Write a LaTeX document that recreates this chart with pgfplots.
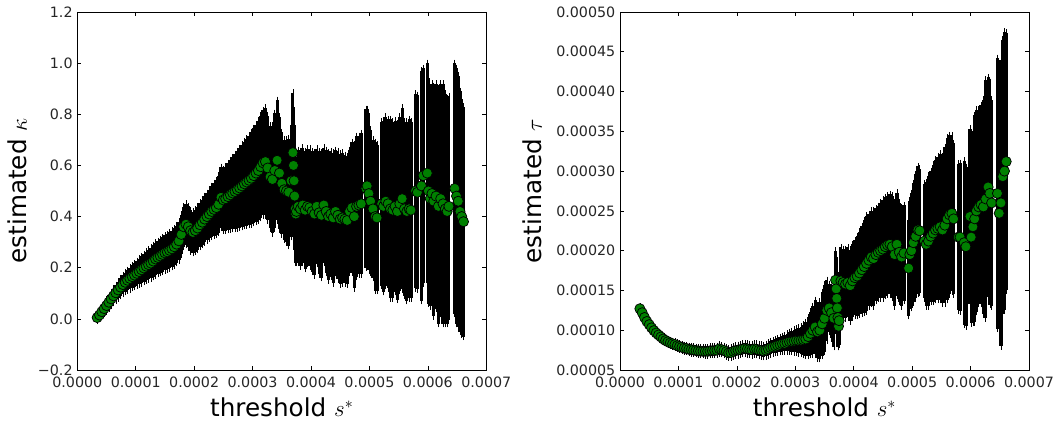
\documentclass[border=0pt]{standalone}
\usepackage{pgfplots}
\usepackage{pgfplotstable}
\pgfplotsset{compat=1.18}
\usepackage{fontspec}
\setmainfont{DejaVu Sans}
\definecolor{mplgreen}{RGB}{0,128,0}

% s: threshold (units of 1e-4), k: kappa, ke: error of kappa,
% t: tau (units of 1e-4), te: error of tau (units of 1e-4)
\pgfplotstableread{
s k ke t te
0.34 0.005 0.012 1.27 0.025
0.38 0.015 0.015 1.22 0.025
0.42 0.028 0.018 1.16 0.025
0.46 0.040 0.020 1.11 0.025
0.50 0.052 0.022 1.07 0.025
0.54 0.065 0.024 1.03 0.025
0.58 0.078 0.026 0.995 0.027
0.62 0.090 0.028 0.965 0.027
0.66 0.102 0.030 0.94 0.028
0.70 0.113 0.032 0.915 0.028
0.74 0.124 0.034 0.89 0.030
0.78 0.134 0.036 0.87 0.030
0.82 0.143 0.038 0.855 0.032
0.86 0.151 0.040 0.84 0.032
0.90 0.158 0.042 0.83 0.034
0.94 0.165 0.044 0.82 0.034
0.98 0.171 0.046 0.805 0.036
1.02 0.178 0.048 0.795 0.036
1.06 0.185 0.050 0.785 0.038
1.10 0.192 0.052 0.775 0.038
1.14 0.199 0.054 0.77 0.040
1.18 0.206 0.056 0.76 0.040
1.22 0.212 0.058 0.755 0.042
1.26 0.218 0.060 0.75 0.042
1.30 0.226 0.062 0.745 0.044
1.34 0.234 0.063 0.74 0.044
1.38 0.240 0.064 0.737 0.046
1.42 0.246 0.066 0.735 0.046
1.46 0.252 0.067 0.735 0.048
1.50 0.258 0.068 0.735 0.048
1.54 0.262 0.069 0.74 0.050
1.58 0.268 0.070 0.742 0.050
1.62 0.274 0.071 0.745 0.052
1.66 0.282 0.072 0.75 0.052
1.70 0.292 0.073 0.765 0.054
1.74 0.305 0.075 0.755 0.054
1.78 0.330 0.077 0.745 0.056
1.82 0.360 0.079 0.73 0.056
1.86 0.370 0.080 0.715 0.058
1.90 0.360 0.080 0.72 0.058
1.94 0.345 0.080 0.735 0.060
1.98 0.338 0.080 0.745 0.060
2.02 0.345 0.082 0.75 0.062
2.06 0.355 0.084 0.755 0.062
2.10 0.368 0.086 0.765 0.064
2.14 0.378 0.088 0.77 0.064
2.18 0.390 0.090 0.765 0.066
2.22 0.400 0.092 0.76 0.066
2.26 0.410 0.095 0.755 0.068
2.30 0.420 0.099 0.765 0.068
2.34 0.428 0.103 0.76 0.070
2.38 0.435 0.107 0.75 0.070
2.42 0.448 0.111 0.745 0.072
2.46 0.475 0.118 0.74 0.074
2.50 0.465 0.120 0.75 0.076
2.54 0.470 0.125 0.765 0.078
2.58 0.478 0.130 0.78 0.080
2.62 0.485 0.135 0.79 0.082
2.66 0.492 0.140 0.80 0.085
2.70 0.498 0.145 0.81 0.088
2.74 0.505 0.150 0.82 0.092
2.78 0.512 0.155 0.83 0.096
2.82 0.520 0.160 0.835 0.10
2.86 0.528 0.165 0.845 0.11
2.90 0.535 0.170 0.855 0.12
2.94 0.542 0.175 0.86 0.13
2.98 0.550 0.180 0.865 0.14
3.02 0.560 0.185 0.87 0.15
3.06 0.570 0.190 0.87 0.16
3.10 0.580 0.195 0.875 0.17
3.14 0.595 0.200 0.88 0.19
3.18 0.610 0.205 0.89 0.21
3.22 0.615 0.210 0.92 0.24
3.26 0.590 0.205 0.96 0.27
3.30 0.555 0.200 1.00 0.30
3.34 0.545 0.210 1.04 0.34
3.38 0.580 0.225 0.98 0.33
3.42 0.620 0.235 1.00 0.36
3.46 0.570 0.220 1.08 0.40
3.50 0.530 0.200 1.15 0.42
3.54 0.505 0.195 1.25 0.38
3.58 0.500 0.200 1.28 0.30
3.62 0.495 0.210 1.22 0.32
3.66 0.540 0.220 1.15 0.36
3.69 0.650 0.235 1.63 0.37
3.70 0.600 0.230 1.52 0.40
3.71 0.540 0.220 1.40 0.45
3.72 0.480 0.210 1.28 0.45
3.73 0.430 0.200 1.16 0.37
3.74 0.410 0.190 1.05 0.26
3.75 0.420 0.200 1.12 0.30
3.78 0.440 0.220 1.62 0.42
3.82 0.430 0.225 1.60 0.42
3.86 0.445 0.225 1.58 0.43
3.90 0.425 0.230 1.60 0.44
3.94 0.440 0.225 1.56 0.45
3.98 0.435 0.230 1.62 0.46
4.02 0.420 0.235 1.66 0.47
4.06 0.410 0.240 1.68 0.50
4.10 0.440 0.225 1.72 0.52
4.14 0.415 0.240 1.76 0.55
4.18 0.405 0.245 1.80 0.58
4.22 0.445 0.225 1.84 0.60
4.26 0.420 0.240 1.88 0.58
4.30 0.400 0.250 1.92 0.58
4.34 0.410 0.245 1.90 0.60
4.38 0.395 0.255 1.95 0.58
4.42 0.420 0.240 1.98 0.58
4.46 0.405 0.250 2.00 0.60
4.50 0.390 0.255 2.02 0.62
4.54 0.395 0.255 2.05 0.62
4.58 0.390 0.250 2.07 0.62
4.62 0.385 0.250 2.08 0.63
4.66 0.420 0.240 2.05 0.64
4.70 0.435 0.255 1.95 0.65
4.74 0.400 0.280 2.08 0.65
4.78 0.440 0.275 1.98 0.62
4.82 0.445 0.270 1.92 0.62
4.86 0.450 0.275 1.97 0.60
4.94 0.510 0.310 1.78 0.60
4.96 0.520 0.300 1.95 0.68
4.99 0.490 0.300 2.00 0.72
5.02 0.460 0.280 2.10 0.75
5.06 0.430 0.270 2.18 0.78
5.10 0.400 0.290 2.26 0.80
5.13 0.395 0.285 2.25 0.78
5.21 0.450 0.320 2.12 0.72
5.24 0.440 0.335 2.08 0.78
5.28 0.460 0.330 2.12 0.82
5.32 0.450 0.330 2.18 0.82
5.36 0.430 0.350 2.22 0.86
5.40 0.425 0.345 2.26 0.88
5.44 0.440 0.335 2.28 0.90
5.48 0.420 0.345 2.30 0.92
5.52 0.450 0.340 2.26 0.92
5.56 0.470 0.355 2.32 0.98
5.60 0.430 0.340 2.40 1.02
5.64 0.420 0.350 2.45 1.00
5.68 0.430 0.350 2.47 0.98
5.71 0.425 0.345 2.40 0.95
5.79 0.500 0.380 2.17 0.92
5.82 0.495 0.380 2.17 0.93
5.89 0.520 0.450 2.10 1.03
5.92 0.560 0.420 2.05 1.00
5.99 0.570 0.430 2.43 1.10
6.01 0.500 0.440 2.17 1.08
6.04 0.470 0.420 2.30 1.20
6.07 0.490 0.430 2.40 1.30
6.10 0.460 0.450 2.50 1.27
6.14 0.480 0.440 2.55 1.22
6.18 0.440 0.460 2.58 1.25
6.22 0.470 0.450 2.55 1.35
6.26 0.450 0.470 2.65 1.50
6.30 0.430 0.450 2.80 1.38
6.33 0.420 0.440 2.72 1.40
6.36 0.440 0.430 2.60 1.30
6.46 0.510 0.490 2.72 1.70
6.49 0.480 0.500 2.47 1.34
6.52 0.460 0.490 2.60 1.80
6.55 0.420 0.470 2.93 1.72
6.58 0.400 0.460 3.00 1.75
6.61 0.380 0.450 3.12 1.62
}\data

\pgfplotsset{
  mplaxis/.style={
    scale only axis,
    width=306.75pt, height=268.5pt,
    anchor=south west,
    xmin=0, xmax=0.0007,
    scaled x ticks=false, scaled y ticks=false,
    xtick={0,0.0001,0.0002,0.0003,0.0004,0.0005,0.0006,0.0007},
    xticklabels={0.0000,0.0001,0.0002,0.0003,0.0004,0.0005,0.0006,0.0007},
    tick align=inside,
    major tick length=3pt,
    tick style={black, line width=0.5pt},
    axis line style={black, line width=0.6pt},
    ticklabel style={font=\fontsize{10.7pt}{12pt}\selectfont, color=black!85},
    xticklabel style={yshift=-1.5pt},
    label style={font=\fontsize{18.5pt}{22pt}\selectfont, color=black},
    xlabel={threshold $s^*$},
    xlabel style={at={(axis description cs:0.5,-0.131)}, anchor=base, inner sep=0pt},
    clip=true,
  },
  ebars/.style={
    only marks, mark=none,
    error bars/.cd,
      y dir=both, y explicit,
      error bar style={draw=black, line width=2.4pt},
      error mark=-,
      error mark options={black, line width=0.5pt, mark size=2.6pt},
  },
  gmarks/.style={
    only marks, mark=*, mark size=3.8pt,
    mark options={fill=mplgreen, draw=black, line width=0.55pt},
  },
}

\begin{document}
\begin{tikzpicture}
\useasboundingbox (0,0) rectangle (792pt,317.25pt);

\begin{axis}[mplaxis,
  at={(57.97pt,39.75pt)},
  ymin=-0.2, ymax=1.2,
  ytick={-0.2,0,0.2,0.4,0.6,0.8,1.0,1.2},
  yticklabels={−0.2,0.0,0.2,0.4,0.6,0.8,1.0,1.2},
  ylabel={estimated $\kappa$},
  ylabel style={at={(axis description cs:-0.123,0.5)}, rotate=0, anchor=base, inner sep=0pt},
]
\addplot[ebars] table[x expr=\thisrow{s}*1e-4, y=k, y error=ke] {\data};
\addplot[gmarks] table[x expr=\thisrow{s}*1e-4, y=k] {\data};
\end{axis}

\begin{axis}[mplaxis,
  at={(465pt,39.75pt)},
  ymin=0.00005, ymax=0.0005,
  ytick={0.00005,0.0001,0.00015,0.0002,0.00025,0.0003,0.00035,0.0004,0.00045,0.0005},
  yticklabels={0.00005,0.00010,0.00015,0.00020,0.00025,0.00030,0.00035,0.00040,0.00045,0.00050},
  ylabel={estimated $\tau$},
  ylabel style={at={(axis description cs:-0.191,0.5)}, rotate=0, anchor=base, inner sep=0pt},
]
\addplot[ebars] table[x expr=\thisrow{s}*1e-4, y expr=\thisrow{t}*1e-4, y error expr=\thisrow{te}*1e-4] {\data};
\addplot[gmarks] table[x expr=\thisrow{s}*1e-4, y expr=\thisrow{t}*1e-4] {\data};
\end{axis}
\end{tikzpicture}
\end{document}
